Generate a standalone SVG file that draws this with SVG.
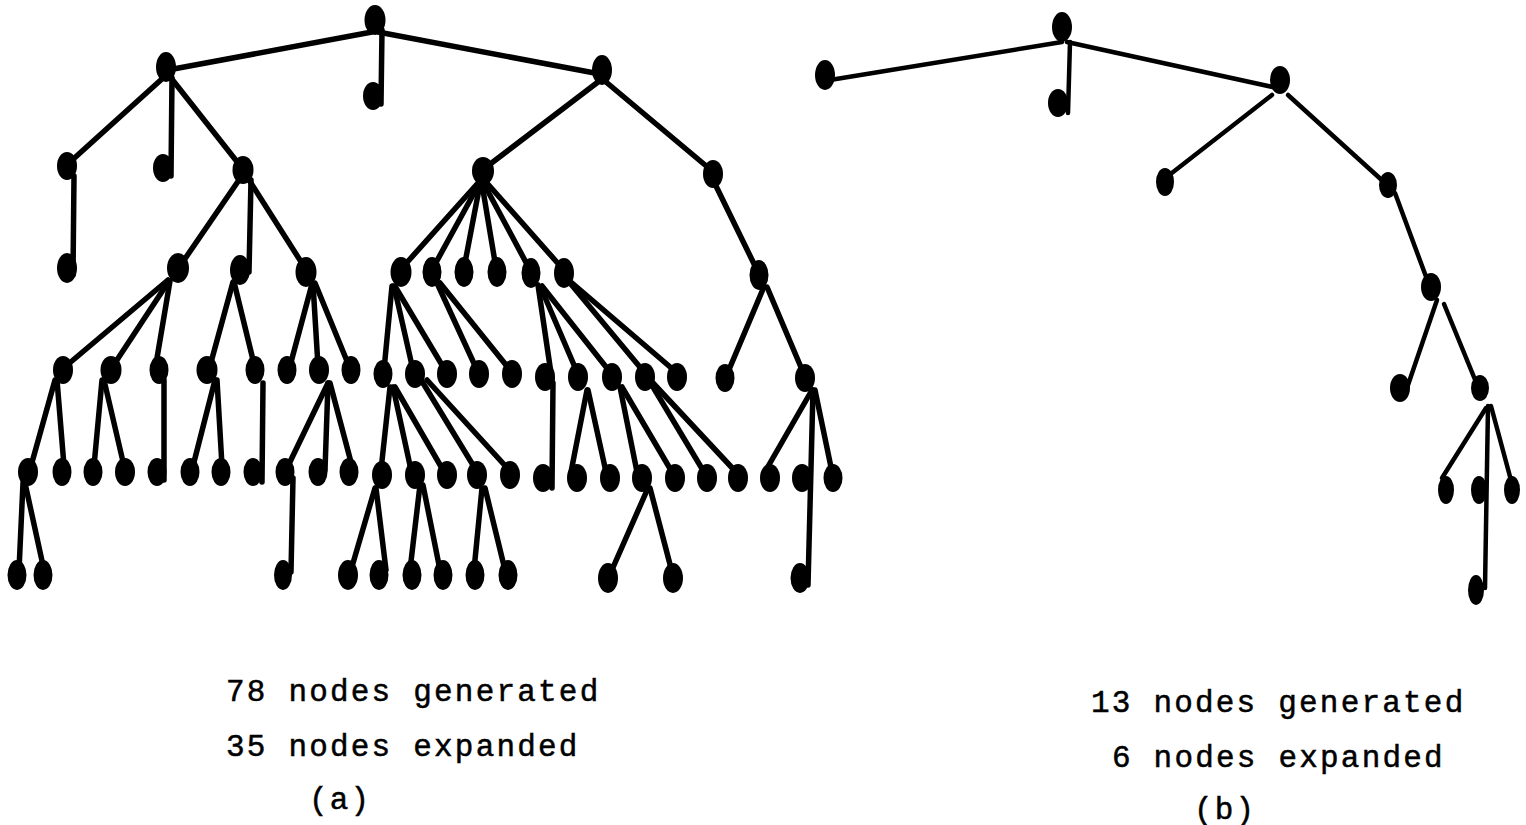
<svg xmlns="http://www.w3.org/2000/svg" width="1526" height="825" viewBox="0 0 1526 825">
<style>
.bg{fill:#fff}
.ea line{stroke:#000;stroke-width:5.5;stroke-linecap:round}
.eb line{stroke:#000;stroke-width:4.5;stroke-linecap:round}
.n ellipse{fill:#000}
.t{font-family:"Liberation Mono","Courier New",monospace;font-size:31px;letter-spacing:2.2px;fill:#000;stroke:#000;stroke-width:0.5}
</style>
<rect class="bg" x="0" y="0" width="1526" height="825"/>
<g id="connectors-a" class="ea">
<line x1="372" y1="32" x2="168" y2="70"/>
<line x1="382" y1="30" x2="381" y2="104"/>
<line x1="378" y1="32" x2="600" y2="74"/>
<line x1="163" y1="78" x2="70" y2="162"/>
<line x1="172" y1="78" x2="171" y2="176"/>
<line x1="171" y1="78" x2="242" y2="168"/>
<line x1="74" y1="176" x2="73" y2="275"/>
<line x1="239" y1="180" x2="180" y2="266"/>
<line x1="251" y1="180" x2="249" y2="272"/>
<line x1="249" y1="180" x2="305" y2="268"/>
<line x1="598" y1="82" x2="485" y2="168"/>
<line x1="606" y1="82" x2="711" y2="170"/>
<line x1="478" y1="183" x2="402" y2="268"/>
<line x1="479" y1="184" x2="433" y2="268"/>
<line x1="480" y1="184" x2="464" y2="268"/>
<line x1="482" y1="184" x2="496" y2="268"/>
<line x1="484" y1="184" x2="529" y2="268"/>
<line x1="486" y1="182" x2="562" y2="268"/>
<line x1="716" y1="186" x2="757" y2="270"/>
<line x1="168" y1="280" x2="66" y2="366"/>
<line x1="169" y1="281" x2="113" y2="366"/>
<line x1="170" y1="281" x2="156" y2="364"/>
<line x1="233" y1="282" x2="210" y2="366"/>
<line x1="234" y1="282" x2="254" y2="364"/>
<line x1="312" y1="284" x2="290" y2="366"/>
<line x1="313" y1="284" x2="318" y2="366"/>
<line x1="315" y1="283" x2="349" y2="366"/>
<line x1="392" y1="286" x2="384" y2="370"/>
<line x1="394" y1="286" x2="413" y2="370"/>
<line x1="396" y1="288" x2="445" y2="370"/>
<line x1="437" y1="283" x2="477" y2="370"/>
<line x1="440" y1="283" x2="510" y2="370"/>
<line x1="538" y1="285" x2="552" y2="380"/>
<line x1="541" y1="288" x2="577" y2="372"/>
<line x1="542" y1="286" x2="610" y2="372"/>
<line x1="570" y1="283" x2="644" y2="372"/>
<line x1="572" y1="283" x2="676" y2="372"/>
<line x1="763" y1="289" x2="728" y2="372"/>
<line x1="767" y1="287" x2="803" y2="372"/>
<line x1="55" y1="380" x2="31" y2="466"/>
<line x1="57" y1="380" x2="64" y2="466"/>
<line x1="102" y1="380" x2="94" y2="466"/>
<line x1="104" y1="380" x2="124" y2="466"/>
<line x1="164" y1="380" x2="164" y2="480"/>
<line x1="215" y1="380" x2="193" y2="466"/>
<line x1="217" y1="380" x2="222" y2="466"/>
<line x1="263" y1="383" x2="262" y2="482"/>
<line x1="328" y1="383" x2="288" y2="466"/>
<line x1="328" y1="383" x2="325" y2="470"/>
<line x1="330" y1="383" x2="352" y2="466"/>
<line x1="390" y1="387" x2="381" y2="470"/>
<line x1="393" y1="387" x2="411" y2="470"/>
<line x1="395" y1="387" x2="443" y2="470"/>
<line x1="423" y1="383" x2="476" y2="470"/>
<line x1="427" y1="380" x2="509" y2="470"/>
<line x1="553" y1="383" x2="552" y2="488"/>
<line x1="587" y1="390" x2="571" y2="472"/>
<line x1="588" y1="390" x2="606" y2="472"/>
<line x1="620" y1="387" x2="637" y2="472"/>
<line x1="622" y1="387" x2="672" y2="472"/>
<line x1="653" y1="387" x2="704" y2="472"/>
<line x1="653" y1="383" x2="736" y2="472"/>
<line x1="812" y1="390" x2="766" y2="470"/>
<line x1="813" y1="390" x2="808" y2="585"/>
<line x1="815" y1="390" x2="832" y2="472"/>
<line x1="23" y1="483" x2="19" y2="570"/>
<line x1="25" y1="483" x2="44" y2="570"/>
<line x1="293" y1="478" x2="291" y2="572"/>
<line x1="375" y1="488" x2="351" y2="570"/>
<line x1="376" y1="488" x2="386" y2="570"/>
<line x1="420" y1="485" x2="410" y2="570"/>
<line x1="423" y1="485" x2="440" y2="570"/>
<line x1="482" y1="488" x2="474" y2="570"/>
<line x1="485" y1="488" x2="505" y2="570"/>
<line x1="648" y1="488" x2="611" y2="572"/>
<line x1="650" y1="488" x2="672" y2="572"/>
</g>
<g id="connectors-b" class="eb">
<line x1="1062" y1="42" x2="830" y2="80"/>
<line x1="1070" y1="42" x2="1068" y2="113"/>
<line x1="1067" y1="42" x2="1277" y2="88"/>
<line x1="1272" y1="95" x2="1168" y2="176"/>
<line x1="1288" y1="95" x2="1385" y2="183"/>
<line x1="1395" y1="193" x2="1428" y2="282"/>
<line x1="1437" y1="300" x2="1408" y2="385"/>
<line x1="1444" y1="304" x2="1476" y2="382"/>
<line x1="1486" y1="408" x2="1442" y2="478"/>
<line x1="1488" y1="406" x2="1485" y2="588"/>
<line x1="1491" y1="406" x2="1512" y2="484"/>
</g>
<g id="tree-a">
<g id="a-n01" class="n"><ellipse cx="375" cy="20" rx="10.5" ry="15"/></g>
<g id="a-n02" class="n"><ellipse cx="166" cy="67" rx="10" ry="15"/></g>
<g id="a-n03" class="n"><ellipse cx="373" cy="96" rx="10" ry="14"/></g>
<g id="a-n04" class="n"><ellipse cx="602" cy="70" rx="10" ry="15"/></g>
<g id="a-n05" class="n"><ellipse cx="67" cy="166" rx="10" ry="14"/></g>
<g id="a-n06" class="n"><ellipse cx="163" cy="168" rx="10" ry="14"/></g>
<g id="a-n07" class="n"><ellipse cx="243" cy="170" rx="10.5" ry="14"/></g>
<g id="a-n08" class="n"><ellipse cx="483" cy="171" rx="11" ry="14"/></g>
<g id="a-n09" class="n"><ellipse cx="713" cy="174" rx="10" ry="14"/></g>
<g id="a-n10" class="n"><ellipse cx="67" cy="268" rx="10" ry="15"/></g>
<g id="a-n11" class="n"><ellipse cx="178" cy="268" rx="11" ry="15"/></g>
<g id="a-n12" class="n"><ellipse cx="240" cy="270" rx="10" ry="15"/></g>
<g id="a-n13" class="n"><ellipse cx="306" cy="272" rx="10.5" ry="15"/></g>
<g id="a-n14" class="n"><ellipse cx="401" cy="272" rx="10.5" ry="15"/></g>
<g id="a-n15" class="n"><ellipse cx="432" cy="272" rx="9.5" ry="15"/></g>
<g id="a-n16" class="n"><ellipse cx="464" cy="272" rx="9.5" ry="15"/></g>
<g id="a-n17" class="n"><ellipse cx="497" cy="272" rx="9.5" ry="15"/></g>
<g id="a-n18" class="n"><ellipse cx="531" cy="273" rx="9.5" ry="15"/></g>
<g id="a-n19" class="n"><ellipse cx="564" cy="273" rx="10" ry="15"/></g>
<g id="a-n20" class="n"><ellipse cx="759" cy="275" rx="9.5" ry="15"/></g>
<g id="a-n21" class="n"><ellipse cx="63" cy="370" rx="10" ry="14"/></g>
<g id="a-n22" class="n"><ellipse cx="111" cy="370" rx="10.5" ry="14"/></g>
<g id="a-n23" class="n"><ellipse cx="159" cy="370" rx="9.5" ry="14"/></g>
<g id="a-n24" class="n"><ellipse cx="207" cy="370" rx="10.5" ry="14"/></g>
<g id="a-n25" class="n"><ellipse cx="255" cy="370" rx="9.5" ry="14"/></g>
<g id="a-n26" class="n"><ellipse cx="287" cy="370" rx="9.5" ry="14"/></g>
<g id="a-n27" class="n"><ellipse cx="319" cy="370" rx="10" ry="14"/></g>
<g id="a-n28" class="n"><ellipse cx="351" cy="370" rx="9.5" ry="14"/></g>
<g id="a-n29" class="n"><ellipse cx="383" cy="374" rx="9.5" ry="14"/></g>
<g id="a-n30" class="n"><ellipse cx="415" cy="374" rx="10" ry="14"/></g>
<g id="a-n31" class="n"><ellipse cx="447" cy="374" rx="10" ry="14"/></g>
<g id="a-n32" class="n"><ellipse cx="479" cy="374" rx="10" ry="14"/></g>
<g id="a-n33" class="n"><ellipse cx="512" cy="374" rx="10" ry="14"/></g>
<g id="a-n34" class="n"><ellipse cx="545" cy="377" rx="10" ry="14"/></g>
<g id="a-n35" class="n"><ellipse cx="578" cy="377" rx="10" ry="14"/></g>
<g id="a-n36" class="n"><ellipse cx="612" cy="377" rx="10" ry="14"/></g>
<g id="a-n37" class="n"><ellipse cx="645" cy="377" rx="10" ry="14"/></g>
<g id="a-n38" class="n"><ellipse cx="677" cy="377" rx="10" ry="14"/></g>
<g id="a-n39" class="n"><ellipse cx="725" cy="378" rx="9.5" ry="14"/></g>
<g id="a-n40" class="n"><ellipse cx="805" cy="378" rx="10" ry="14"/></g>
<g id="a-n41" class="n"><ellipse cx="28" cy="472" rx="10" ry="14"/></g>
<g id="a-n42" class="n"><ellipse cx="62" cy="472" rx="9.5" ry="14"/></g>
<g id="a-n43" class="n"><ellipse cx="93" cy="472" rx="9.5" ry="14"/></g>
<g id="a-n44" class="n"><ellipse cx="125" cy="472" rx="10" ry="14"/></g>
<g id="a-n45" class="n"><ellipse cx="157" cy="472" rx="9.5" ry="14"/></g>
<g id="a-n46" class="n"><ellipse cx="190" cy="472" rx="9.5" ry="14"/></g>
<g id="a-n47" class="n"><ellipse cx="221" cy="472" rx="9.5" ry="14"/></g>
<g id="a-n48" class="n"><ellipse cx="253" cy="472" rx="9.5" ry="14"/></g>
<g id="a-n49" class="n"><ellipse cx="285" cy="472" rx="9.5" ry="14"/></g>
<g id="a-n50" class="n"><ellipse cx="318" cy="472" rx="9.5" ry="14"/></g>
<g id="a-n51" class="n"><ellipse cx="349" cy="472" rx="9.5" ry="14"/></g>
<g id="a-n52" class="n"><ellipse cx="382" cy="475" rx="10" ry="14"/></g>
<g id="a-n53" class="n"><ellipse cx="415" cy="475" rx="10" ry="14"/></g>
<g id="a-n54" class="n"><ellipse cx="447" cy="475" rx="10" ry="14"/></g>
<g id="a-n55" class="n"><ellipse cx="477" cy="475" rx="10" ry="14"/></g>
<g id="a-n56" class="n"><ellipse cx="510" cy="475" rx="10" ry="14"/></g>
<g id="a-n57" class="n"><ellipse cx="543" cy="478" rx="10" ry="14"/></g>
<g id="a-n58" class="n"><ellipse cx="577" cy="478" rx="10" ry="14"/></g>
<g id="a-n59" class="n"><ellipse cx="610" cy="478" rx="10" ry="14"/></g>
<g id="a-n60" class="n"><ellipse cx="642" cy="478" rx="10" ry="14"/></g>
<g id="a-n61" class="n"><ellipse cx="675" cy="478" rx="10" ry="14"/></g>
<g id="a-n62" class="n"><ellipse cx="707" cy="478" rx="10" ry="14"/></g>
<g id="a-n63" class="n"><ellipse cx="738" cy="478" rx="10" ry="14"/></g>
<g id="a-n64" class="n"><ellipse cx="770" cy="478" rx="10" ry="14"/></g>
<g id="a-n65" class="n"><ellipse cx="802" cy="478" rx="10" ry="14"/></g>
<g id="a-n66" class="n"><ellipse cx="833" cy="478" rx="9.5" ry="14"/></g>
<g id="a-n67" class="n"><ellipse cx="17" cy="575" rx="9.5" ry="15"/></g>
<g id="a-n68" class="n"><ellipse cx="43" cy="575" rx="9.5" ry="15"/></g>
<g id="a-n69" class="n"><ellipse cx="283" cy="575" rx="9" ry="15"/></g>
<g id="a-n70" class="n"><ellipse cx="348" cy="575" rx="10" ry="15"/></g>
<g id="a-n71" class="n"><ellipse cx="379" cy="575" rx="9.5" ry="15"/></g>
<g id="a-n72" class="n"><ellipse cx="412" cy="575" rx="9.5" ry="15"/></g>
<g id="a-n73" class="n"><ellipse cx="443" cy="575" rx="9.5" ry="15"/></g>
<g id="a-n74" class="n"><ellipse cx="475" cy="575" rx="9.5" ry="15"/></g>
<g id="a-n75" class="n"><ellipse cx="508" cy="575" rx="9.5" ry="15"/></g>
<g id="a-n76" class="n"><ellipse cx="608" cy="578" rx="10" ry="15"/></g>
<g id="a-n77" class="n"><ellipse cx="673" cy="578" rx="10" ry="15"/></g>
<g id="a-n78" class="n"><ellipse cx="800" cy="578" rx="9.5" ry="15"/></g>
</g>
<g id="tree-b">
<g id="b-n01" class="n"><ellipse cx="1062" cy="27" rx="10" ry="15"/></g>
<g id="b-n02" class="n"><ellipse cx="825" cy="75" rx="10" ry="15"/></g>
<g id="b-n03" class="n"><ellipse cx="1058" cy="103" rx="10" ry="14"/></g>
<g id="b-n04" class="n"><ellipse cx="1280" cy="80" rx="10" ry="14"/></g>
<g id="b-n05" class="n"><ellipse cx="1165" cy="182" rx="9" ry="14"/></g>
<g id="b-n06" class="n"><ellipse cx="1388" cy="185" rx="9" ry="13"/></g>
<g id="b-n07" class="n"><ellipse cx="1431" cy="287" rx="10" ry="14"/></g>
<g id="b-n08" class="n"><ellipse cx="1400" cy="388" rx="10" ry="14"/></g>
<g id="b-n09" class="n"><ellipse cx="1480" cy="388" rx="9" ry="13"/></g>
<g id="b-n10" class="n"><ellipse cx="1446" cy="490" rx="8" ry="14"/></g>
<g id="b-n11" class="n"><ellipse cx="1479" cy="490" rx="8" ry="14"/></g>
<g id="b-n12" class="n"><ellipse cx="1512" cy="490" rx="8" ry="14"/></g>
<g id="b-n13" class="n"><ellipse cx="1476" cy="590" rx="8" ry="15"/></g>
</g>
<g id="labels">
<text class="t" x="226" y="701">78 nodes generated</text>
<text class="t" x="226" y="756">35 nodes expanded</text>
<text class="t" x="309" y="809">(a)</text>
<text class="t" x="1091" y="712">13 nodes generated</text>
<text class="t" x="1112" y="767">6 nodes expanded</text>
<text class="t" x="1194" y="819">(b)</text>
</g>
</svg>
